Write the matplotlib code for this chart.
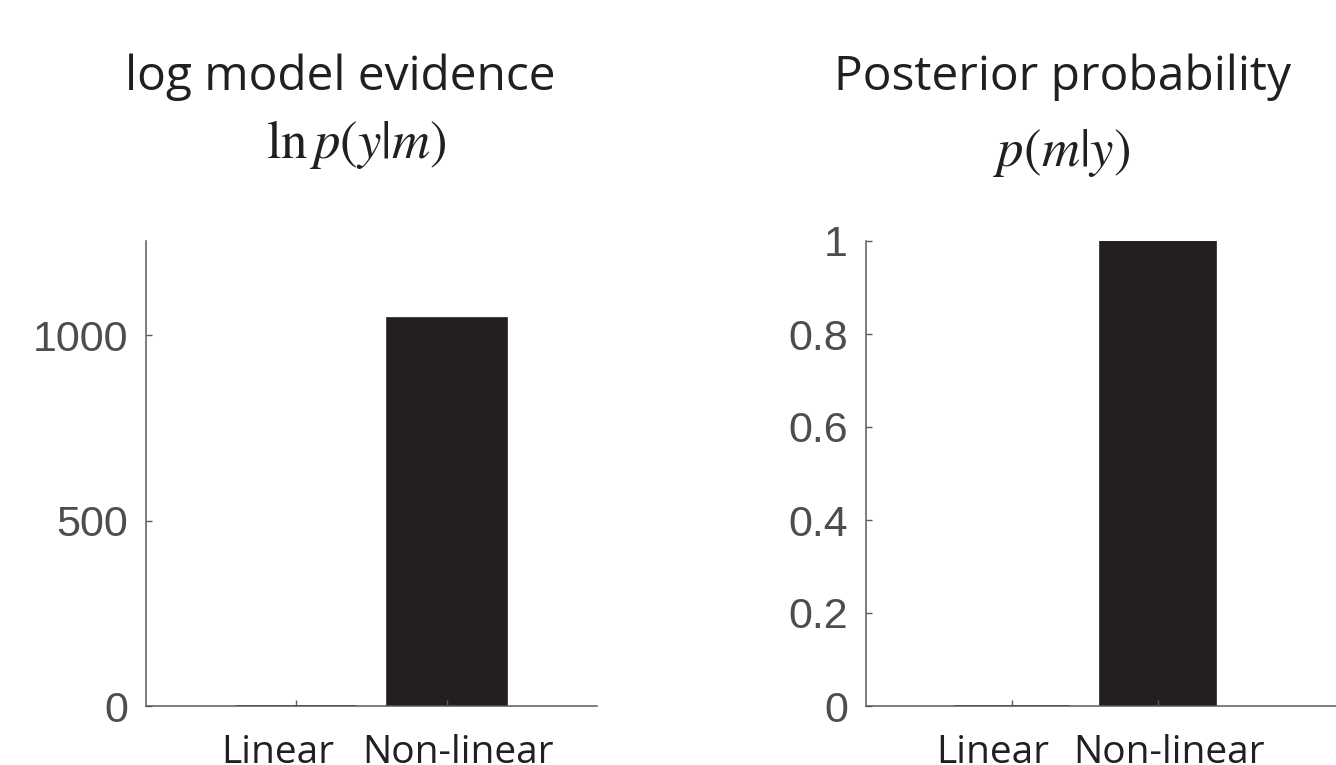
import matplotlib
matplotlib.use("Agg")
from matplotlib import pyplot as plt
from matplotlib.ticker import FormatStrFormatter
from matplotlib.transforms import ScaledTranslation

plt.rcParams['mathtext.fontset'] = 'stix'

models = ["Linear", "Non-linear"]
log_evidence = [0, 1047]
posterior = [0, 1]

ev_ticks = [0, 500, 1000]
pp_ticks = [0, 0.2, 0.4, 0.6, 0.8, 1]

bar_col = "#231f20"
axis_col = "#5a5a5a"
tick_col = "#4d4d4d"
title_font = "Open Sans"
num_font = "Liberation Sans"

fig = plt.figure(figsize=(13.36, 7.65), dpi=100)

ax1 = fig.add_axes([146/1336, 59/765, 451/1336, 465/765])
ax2 = fig.add_axes([866/1336, 59/765, 511/1336, 465/765])

pos = [1, 2]
label_shift = [-19, 11]  # pixels, labels are not quite centred on the ticks
for ax in (ax1, ax2):
    vals = log_evidence if ax is ax1 else posterior
    ax.bar(pos, vals, width=0.8, color=bar_col, edgecolor=bar_col, linewidth=1.2)
    ax.spines["top"].set_visible(False)
    ax.spines["right"].set_visible(False)
    for s in ("left", "bottom"):
        ax.spines[s].set_color(axis_col)
        ax.spines[s].set_linewidth(1.1)
    ax.tick_params(direction="in", length=4, width=1.0, color=axis_col)
    ax.tick_params(axis="y", pad=13, labelcolor=tick_col, labelsize=31)
    ax.tick_params(axis="x", pad=20, labelcolor=bar_col, labelsize=28)
    ax.set_xticks(pos)
    ax.set_xticklabels(models, fontfamily=title_font)
    for lab, dx in zip(ax.get_xticklabels(), label_shift):
        lab.set_transform(lab.get_transform() + ScaledTranslation(dx/100, 0, fig.dpi_scale_trans))

ax1.set_xlim(0, 3)
ax1.set_ylim(0, 1255)
ax1.set_yticks(ev_ticks)
ax1.set_yticklabels([str(t) for t in ev_ticks], fontfamily=num_font)

ax2.set_xlim(0, 3.5)
ax2.set_ylim(0, 1)
ax2.set_yticks(pp_ticks)
ax2.yaxis.set_major_formatter(FormatStrFormatter("%g"))
for lab in ax2.get_yticklabels():
    lab.set_fontfamily(num_font)

# titles
fig.text(340/1336, 1 - 90/765, "log model evidence", ha="center", va="baseline",
         fontsize=34.5, family=title_font, color=bar_col)
fig.text(356/1336, 1 - 158/765, r"$\ln p(y|m)$", ha="center", va="baseline",
         fontsize=38, color=bar_col)
fig.text(1062/1336, 1 - 90/765, "Posterior probability", ha="center", va="baseline",
         fontsize=34.5, family=title_font, color=bar_col)
fig.text(1062/1336, 1 - 166/765, r"$p(m|y)$", ha="center", va="baseline",
         fontsize=38, color=bar_col)

plt.savefig("out.png", dpi=100)
